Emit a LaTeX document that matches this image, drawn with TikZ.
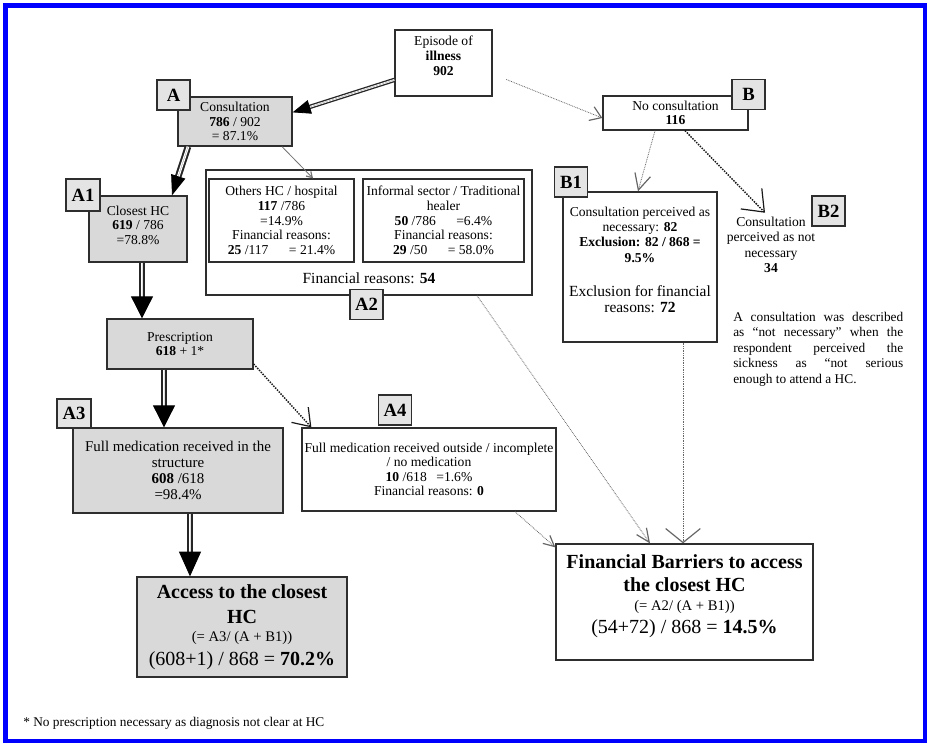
\documentclass[tikz,border=0pt]{standalone}
\usepackage{fontspec}
\setmainfont{Liberation Serif}
\usetikzlibrary{arrows.meta,calc}
\newlength\pxl \setlength\pxl{0.75pt}
\definecolor{boxgray}{HTML}{D9D9D9}
\definecolor{labgray}{HTML}{E4E4E4}
\definecolor{edge}{HTML}{2E2E2E}
\definecolor{frameblue}{HTML}{0000FF}
\newcommand\fsz[2]{\fontsize{#1}{#2}\selectfont}
\tikzset{
  box/.style={draw=edge, line width=1.3\pxl, inner xsep=1\pxl, inner ysep=1\pxl, align=center, font=\fsz{10.2}{10.9}},
  gbox/.style={box, fill=boxgray},
  lab/.style={draw=edge, line width=1.3\pxl, fill=labgray, font=\bfseries\fsz{14}{15}, inner sep=0pt, minimum width=33\pxl, minimum height=30\pxl},
  shaft/.style={draw=black!85, double=white, double distance=2pt, line width=1.5pt, shorten >=#1},
  shaftthin/.style={draw=black!85, double=white, double distance=1.3pt, line width=1pt, shorten >=#1},
  bighead/.style 2 args={draw=black, fill=black, dash pattern=on 0pt off 4000pt, line width=0.6pt, -{Triangle[length=#1, width=#2]}},
  dotthin/.style={draw=black!60, line width=0.6pt, dash pattern=on 0.6pt off 0.7pt},
  dotheavy/.style={draw=black!90, line width=1.1pt, dash pattern=on 1.1pt off 0.9pt},
  vhead/.style 2 args={-{Straight Barb[length=#1, width=#2, line width=0.9pt]}},
  frame/.style={draw=frameblue, line width=5\pxl}
}
\begin{document}
\begin{tikzpicture}[x=0.75pt,y=-0.75pt]
\useasboundingbox (0,0) rectangle (927,742);
\draw[frame] (5.5,5.5) rectangle (925.5,741.5);

% ---------- boxes ----------
\node[box, minimum width=97\pxl, minimum height=66\pxl] (ep) at (443.5,63) {Episode of\\\textbf{illness}\\\textbf{902}\\\mbox{}};

\node[gbox, minimum width=114\pxl, minimum height=49\pxl] (cons) at (235,121.5) {Consultation\\\textbf{786} / 902\\= 87.1\%};
\node[lab] (la) at (173.5,95) {A};

\node[gbox, minimum width=98\pxl, minimum height=66\pxl] (ch) at (138,229) {Closest HC\\\textbf{619} / 786\\=78.8\%\\[-5pt]\mbox{}};
\node[lab, minimum width=34\pxl, minimum height=32\pxl] (la1) at (83,195) {A1};

\node[gbox, minimum width=146\pxl, minimum height=50\pxl] (pres) at (180,344) {Prescription\\\textbf{618} + 1*};

\node[gbox, minimum width=210\pxl, minimum height=85\pxl, font=\fsz{11.2}{12.2}] (a3) at (178,470.5) {Full medication received in the\\structure\\\textbf{608} /618\\=98.4\%};
\node[lab, minimum width=34\pxl, minimum height=29\pxl] (la3) at (74,413.5) {A3};

\node[box, minimum width=254\pxl, minimum height=83\pxl] (a4) at (429,469.5) {Full medication received outside / incomplete\\/ no medication\\\textbf{10} /618\hspace{0.7em}=1.6\%\\Financial reasons: \textbf{0}};
\node[lab] (la4) at (395,410) {A4};

\node[gbox, minimum width=210\pxl, minimum height=100\pxl, font=\fsz{15}{18}] (acc) at (242,627) {\bfseries Access to the closest\\[0.75pt]\bfseries HC\\[-4.5pt]\fsz{11}{13}(= A3/ (A + B1))\\\fsz{15}{18}(608+1) / 868 = \textbf{70.2\%}};

\node[box, minimum width=326\pxl, minimum height=125\pxl] (a2) at (369,232.5) {};
\node[box, minimum width=145\pxl, minimum height=83\pxl, font=\fsz{10.2}{11}] (o1) at (281.5,220.5) {Others HC / hospital\\\textbf{117} /786\\=14.9\%\\Financial reasons:\\\textbf{25} /117\hspace{1.5em}= 21.4\%};
\node[box, minimum width=161\pxl, minimum height=83\pxl, font=\fsz{10.2}{11}] (o2) at (443.5,220.5) {Informal sector / Traditional\\healer\\\textbf{50} /786\hspace{1.5em}=6.4\%\\Financial reasons:\\\textbf{29} /50\hspace{1.5em}= 58.0\%};
\node[font=\fsz{11.6}{13}, inner sep=0] (fr) at (369,278) {Financial reasons: \textbf{54}};
\node[lab] (la2) at (366.5,304.5) {A2};

\node[box, minimum width=145\pxl, minimum height=34\pxl] (nc) at (675.5,113) {No consultation\\\textbf{116}};
\node[lab] (lb) at (748.5,94.5) {B};

\node[box, minimum width=154\pxl, minimum height=150\pxl, font=\fsz{10.2}{11.5}] (b1) at (640,267) {Consultation perceived as\\necessary: \textbf{82}\\\textbf{Exclusion: 82 / 868 =}\\\textbf{9.5\%}\\[14pt]\fsz{11.6}{13}Exclusion for financial\\[0.5pt]\fsz{11.6}{13}reasons: \textbf{72}\\\mbox{}};
\node[lab] (lb1) at (571,182) {B1};

\node[font=\fsz{10.2}{11.6}, align=center, inner sep=0] (b2t) at (771,245) {Consultation\\perceived as not\\necessary\\\textbf{34}};
\node[lab] (lb2) at (828.5,211) {B2};

\node[box, minimum width=257\pxl, minimum height=116\pxl, font=\fsz{15}{17.25}] (fin) at (684.5,602) {\bfseries Financial Barriers to access\\\bfseries the closest HC\\[-3pt]\fsz{11}{13}(= A2/ (A + B1))\\\fsz{15}{17}(54+72) / 868 = \textbf{14.5\%}\\[-6pt]\mbox{}};

\node[anchor=north west, text width=170\pxl, align=justify, inner sep=0, font=\fsz{10}{11.6}] (note) at (733,312) {A consultation was described\linebreak as ``not necessary'' when the\linebreak respondent perceived the\linebreak sickness as ``not serious\linebreak enough to attend a HC.};

\node[anchor=base west, inner sep=0, font=\fsz{10}{12}] (foot) at (23,726) {* No prescription necessary as diagnosis not clear at HC};

% ---------- heavy double arrows ----------
\draw[shaftthin=11pt] (ep.199) -- (cons.9.5);
\draw[bighead={13.5pt}{10.5pt}] (ep.199) -- (cons.9.5);

\draw[shaft=13pt] ($(cons.south)+(-47,0)$) -- ($(ch.north)+(34,0)$);
\draw[bighead={15pt}{11pt}] ($(cons.south)+(-47,0)$) -- ($(ch.north)+(34,0)$);

\draw[shaft=14pt] ($(ch.south)+(4,0)$) -- ($(pres.north)+(-38,0)$);
\draw[bighead={16.5pt}{16.5pt}] ($(ch.south)+(4,0)$) -- ($(pres.north)+(-38,0)$);

\draw[shaft=14pt] ($(pres.south)+(-16,0)$) -- ($(a3.north)+(-14,0)$);
\draw[bighead={16.5pt}{16.5pt}] ($(pres.south)+(-16,0)$) -- ($(a3.north)+(-14,0)$);

\draw[shaft=16pt] ($(a3.south)+(12,0)$) -- ($(acc.north)+(-52,0)$);
\draw[bighead={18.5pt}{16.5pt}] ($(a3.south)+(12,0)$) -- ($(acc.north)+(-52,0)$);

% ---------- thin / dotted arrows ----------
\draw[draw=black!55, line width=0.6pt, vhead={4pt}{5pt}] ($(cons.south)+(47,0)$) -- ($(o1.north)+(31.5,0)$);
\draw[dotthin, vhead={8pt}{11pt}, shorten <=11pt] ($(ep.east)+(0,11)$) -- ($(nc.west)+(0,5)$);
\draw[dotthin, vhead={12pt}{12pt}] ($(nc.south)+(-20.5,0)$) -- ($(b1.north)+(-2,0)$);
\draw[dotheavy, vhead={14pt}{22pt}] ($(nc.south)+(9.5,0)$) -- ($(b2t.north)+(-6,-4)$);
\draw[dotheavy, vhead={12pt}{17pt}] ($(pres.east)+(0,20)$) -- ($(a4.north west)+(10,0)$);
\draw[dotthin, vhead={10pt}{9pt}] ($(a2.south)+(108,0)$) -- ($(fin.north)+(-34.5,0)$);
\draw[dotthin, vhead={10.5pt}{26pt}] ($(b1.south)+(43,0)$) -- ($(fin.north)+(-1.5,0)$);
\draw[dotthin, vhead={8pt}{8pt}] ($(a4.south)+(86,0)$) -- ($(fin.north west)+(0,4)$);
\end{tikzpicture}
\end{document}
